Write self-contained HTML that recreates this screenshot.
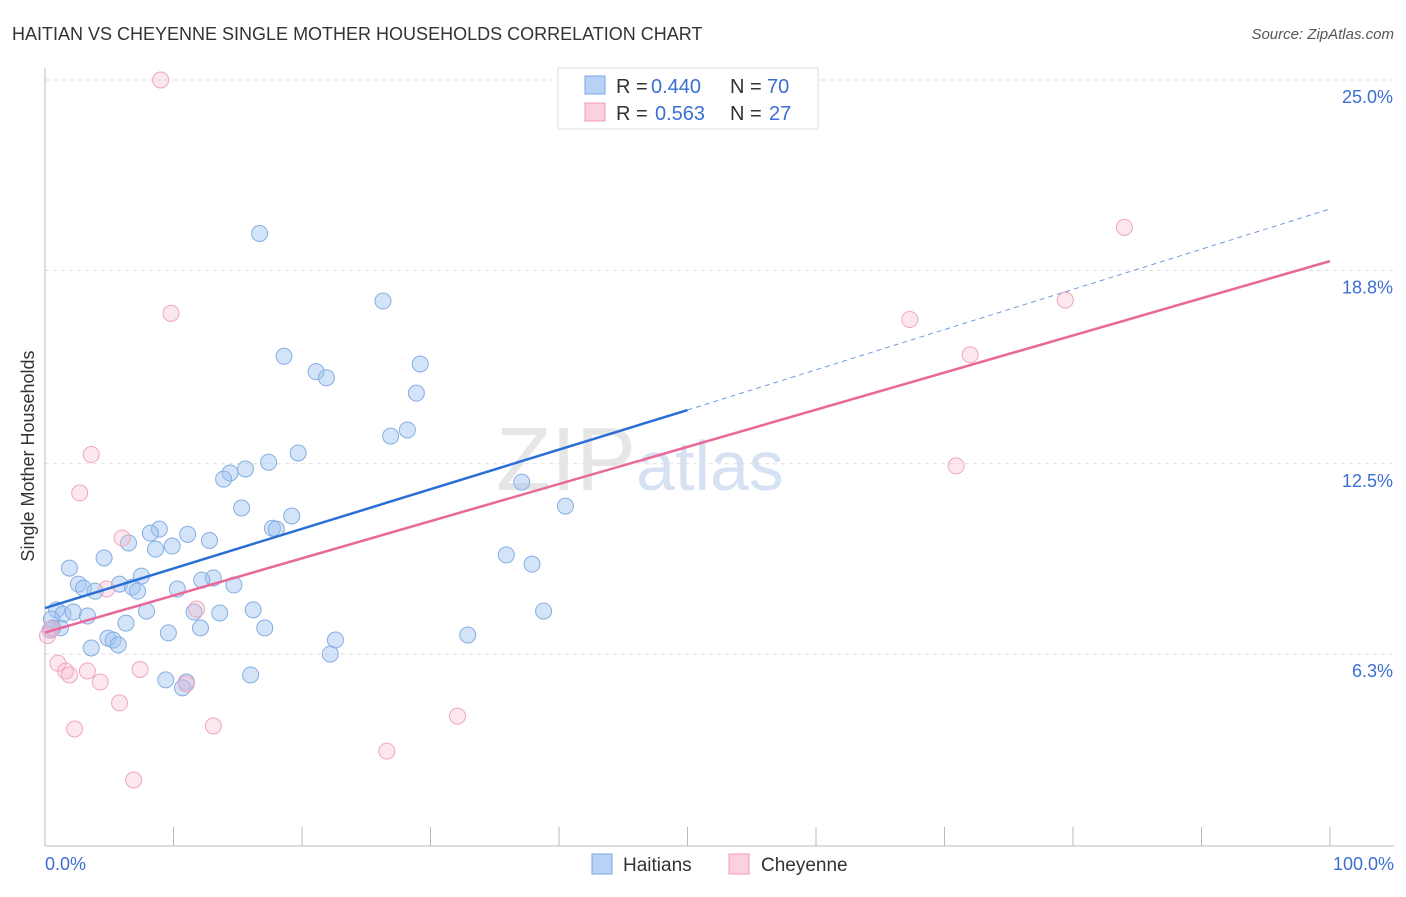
<!DOCTYPE html>
<html><head><meta charset="utf-8"><style>
body{margin:0;background:#fff;font-family:"Liberation Sans",sans-serif;}
svg text{font-family:"Liberation Sans",sans-serif;}
</style></head><body>
<svg id="chart" width="1406" height="892" xmlns="http://www.w3.org/2000/svg">
<text x="12" y="40" font-size="18" fill="#333">HAITIAN VS CHEYENNE SINGLE MOTHER HOUSEHOLDS CORRELATION CHART</text>
<text x="1394" y="39" font-size="15" fill="#555" font-style="italic" text-anchor="end">Source: ZipAtlas.com</text>
<text x="640" y="490" font-size="90" fill="#e6e6e6" text-anchor="middle" font-family="Liberation Serif">ZIP<tspan fill="#d6e2f4" font-family="Liberation Sans" font-size="70">atlas</tspan></text>
<g id="grid"></g><g id="pts"></g><g id="lines"></g>
<text transform="translate(34,456) rotate(-90)" font-size="18" fill="#333" text-anchor="middle">Single Mother Households</text>
<text x="45" y="870" font-size="18" fill="#3b6fd4">0.0%</text>
<text x="1394" y="870" font-size="18" fill="#3b6fd4" text-anchor="end">100.0%</text>
<g>
<rect x="558" y="68" width="260" height="61" fill="#fff" stroke="#ddd"/>
<rect x="585" y="76" width="20" height="18" fill="#b8d2f5" stroke="#7aa6e6"/>
<rect x="585" y="103" width="20" height="18" fill="#fcd0dc" stroke="#f09ab4"/>
<text x="616" y="93" font-size="20" fill="#333">R = <tspan x="651" fill="#3b6fd4">0.440</tspan><tspan x="730">N = </tspan><tspan x="767" fill="#3b6fd4">70</tspan></text>
<text x="616" y="120" font-size="20" fill="#333">R = <tspan x="655" fill="#3b6fd4">0.563</tspan><tspan x="730">N = </tspan><tspan x="769" fill="#3b6fd4">27</tspan></text>
</g>
<g><rect x="592" y="854" width="20" height="20" fill="#b8d2f5" stroke="#7aa6e6"/><text x="623" y="871" font-size="19" fill="#333">Haitians</text></g>
<g><rect x="729" y="854" width="20" height="20" fill="#fcd0dc" stroke="#f09ab4"/><text x="761" y="871" font-size="19" fill="#333">Cheyenne</text></g>
</svg>
<script>
const yTicks=[25.0,18.8,12.5,6.3];
const xTicks=[0,10,20,30,40,50,60,70,80,90,100];
const blueX=[16.7,26.3,18.6,21.1,21.9,29.2,28.9,26.9,28.2,19.7,17.4,15.6,14.4,13.9,15.3,19.2,17.7,18.0,8.9,8.2,11.1,12.8,6.5,8.6,9.9,4.6,1.9,7.5,2.6,3.0,5.8,6.8,7.2,3.9,13.1,12.2,14.7,10.3,0.9,1.4,2.2,3.3,0.5,7.9,11.6,13.6,16.2,6.3,1.2,0.4,12.1,17.1,9.6,4.9,5.3,5.7,3.6,22.6,22.2,32.9,35.9,37.9,38.8,37.1,40.5,16.0,9.4,11.0,10.7,0.6];
const blueY=[20.0,17.8,16.0,15.5,15.3,15.75,14.8,13.4,13.6,12.85,12.55,12.33,12.2,12.0,11.06,10.8,10.4,10.37,10.37,10.24,10.2,10.0,9.92,9.72,9.82,9.43,9.1,8.84,8.58,8.45,8.58,8.48,8.35,8.35,8.78,8.71,8.55,8.42,7.74,7.6,7.67,7.54,7.44,7.7,7.67,7.64,7.74,7.31,7.15,7.08,7.15,7.15,6.99,6.82,6.76,6.6,6.5,6.76,6.3,6.92,9.53,9.23,7.7,11.9,11.12,5.62,5.46,5.39,5.2,7.15];
const pinkX=[9.0,84.0,79.4,67.3,72.0,70.9,9.8,3.6,2.7,6.0,4.8,11.8,0.5,0.2,1.0,1.6,1.9,3.3,4.3,7.4,11.0,5.8,32.1,2.3,13.1,26.6,6.9];
const pinkY=[25.0,20.2,17.83,17.2,16.05,12.43,17.4,12.8,11.55,10.08,8.42,7.77,7.12,6.9,6.0,5.75,5.62,5.75,5.39,5.8,5.33,4.71,4.28,3.86,3.96,3.14,2.2];
const blueLine=[7.8,14.25,20.8];
const pinkLine=[7.0,19.1];
const NS='http://www.w3.org/2000/svg';
const X=v=>45+v*12.85, Y=v=>80+(25-v)*30.7;
function mk(p,t,a){const e=document.createElementNS(NS,t);for(const k in a)e.setAttribute(k,a[k]);p.appendChild(e);return e;}
const grid=document.getElementById('grid');
yTicks.forEach(v=>{
 const l=mk(grid,'line',{x1:45,x2:1394,y1:Y(v),y2:Y(v),stroke:'#ddd','stroke-dasharray':'4,4'});
 
 
 const t=mk(grid,'text',{x:1393,y:Y(v)+23,'font-size':18,fill:'#3b6fd4','text-anchor':'end'});
 t.textContent=v.toFixed(1)+'%';
 
 
});
mk(grid,'line',{x1:45,x2:45,y1:68,y2:846,stroke:'#bbb'});
mk(grid,'line',{x1:45,x2:1394,y1:846,y2:846,stroke:'#bbb'});
xTicks.forEach(v=>{
 const l=mk(grid,'line',{x1:X(v),x2:X(v),y1:827,y2:846,stroke:'#bbb'});
 
 
});
const pts=document.getElementById('pts');
blueX.forEach((x,i)=>{
 const c=mk(pts,'circle',{cx:X(x),cy:Y(blueY[i]),r:8,fill:'rgba(160,195,240,0.45)',stroke:'#86ade2','stroke-width':1});
 
 
});
pinkX.forEach((x,i)=>{
 const c=mk(pts,'circle',{cx:X(x),cy:Y(pinkY[i]),r:8,fill:'rgba(248,185,205,0.35)',stroke:'#f0a6bc','stroke-width':1});
 
 
});
const lines=document.getElementById('lines');
let b=mk(lines,'line',{x1:X(0),y1:Y(blueLine[0]),x2:X(50),y2:Y(blueLine[1]),stroke:'#2a6fd6','stroke-width':2.5});


let bd=mk(lines,'line',{x1:X(50),y1:Y(blueLine[1]),x2:X(100),y2:Y(blueLine[2]),stroke:'#6f9be0','stroke-width':1,'stroke-dasharray':'5,4'});


let p=mk(lines,'line',{x1:X(0),y1:Y(pinkLine[0]),x2:X(100),y2:Y(pinkLine[1]),stroke:'#e8689a','stroke-width':2.5});


</script>
</body></html>
